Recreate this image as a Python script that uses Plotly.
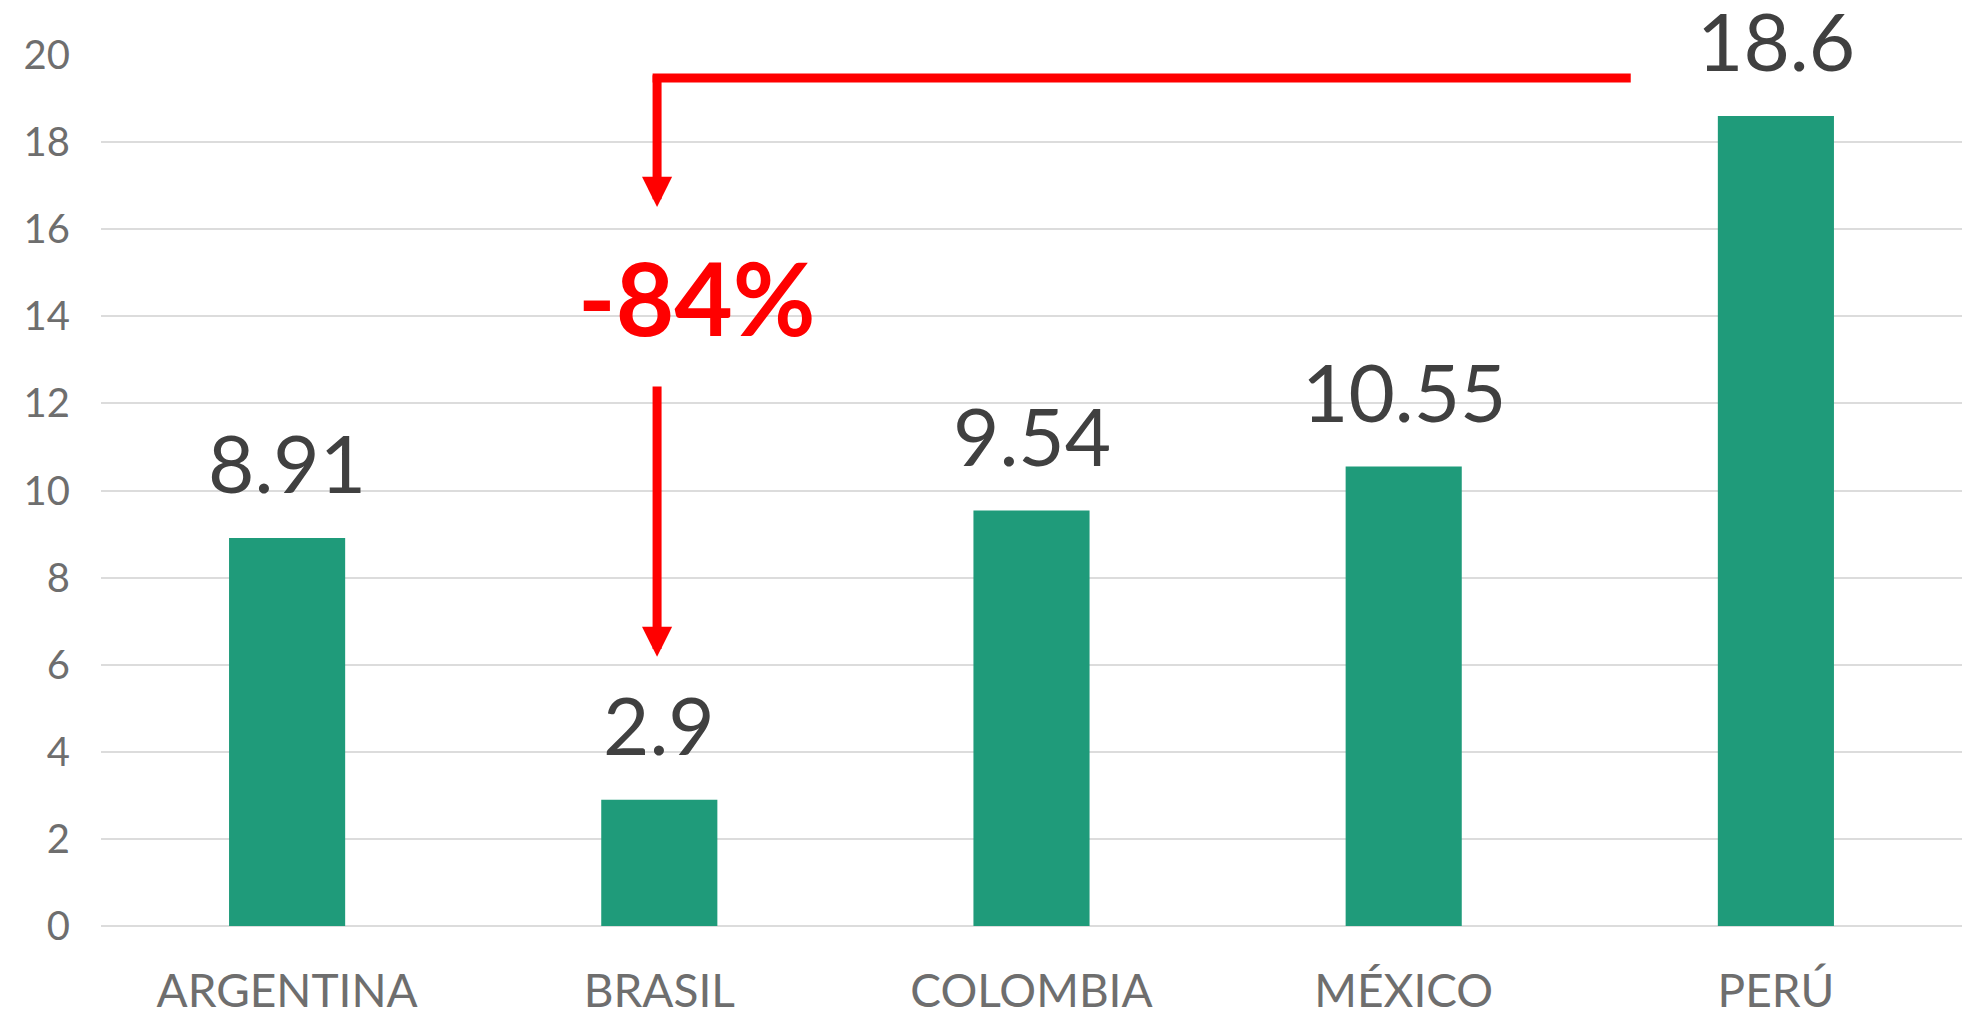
import plotly.graph_objects as go

categories = ["ARGENTINA", "BRASIL", "COLOMBIA", "MÉXICO", "PERÚ"]
values = [8.91, 2.9, 9.54, 10.55, 18.6]
value_labels = ["8.91", "2.9", "9.54", "10.55", "18.6"]
y_ticks = [0, 2, 4, 6, 8, 10, 12, 14, 16, 18, 20]
change_label = "-84%"

BAR_COLOR = "#1F9B7A"
RED = "#FF0000"
FONT = "Lato"

fig = go.Figure()
fig.add_trace(go.Bar(x=categories, y=values, marker=dict(color=BAR_COLOR, line=dict(width=0)),
                     hoverinfo="skip", showlegend=False))

# value labels above bars
for c, v, t in zip(categories, values, value_labels):
    fig.add_annotation(x=c, y=v, text=t, showarrow=False, yanchor="bottom", yshift=26,
                       font=dict(family=FONT, size=80, color="#404040"))

# red connector: horizontal line from PERÚ down to BRASIL
bx = 0.994  # near BRASIL position
fig.add_shape(type="line", xref="x", yref="y", x0=3.61, x1=bx - 0.012, y0=19.47, y1=19.47,
              line=dict(color=RED, width=9))
fig.add_annotation(x=bx, y=16.51, ax=bx, ay=19.47 + 0.1, xref="x", yref="y", axref="x", ayref="y",
                   text="", showarrow=True, arrowhead=2, arrowsize=0.67, arrowwidth=9, arrowcolor=RED)
fig.add_annotation(x=bx, y=6.18, ax=bx, ay=12.42, xref="x", yref="y", axref="x", ayref="y",
                   text="", showarrow=True, arrowhead=2, arrowsize=0.67, arrowwidth=9, arrowcolor=RED)
fig.add_annotation(x=1.101, y=14.44, text="<b>" + change_label + "</b>", showarrow=False,
                   font=dict(family=FONT, size=101, color=RED), yanchor="middle")

fig.update_layout(
    width=1972, height=1018,
    margin=dict(l=93, r=18, t=47, b=100),
    paper_bgcolor="white", plot_bgcolor="white",
    bargap=0.688,
    showlegend=False,
    xaxis=dict(showgrid=False, showline=False, ticks="", ticklabelstandoff=34, automargin=False,
               tickfont=dict(family=FONT, size=46, color="#6e6e6e")),
    yaxis=dict(range=[0, 20], tickvals=y_ticks, showgrid=True, gridcolor="#dcdcdc", gridwidth=2,
               zeroline=True, zerolinecolor="#dcdcdc", zerolinewidth=2, showline=False, ticks="",
               automargin=False,
               ticklabelstandoff=30, tickfont=dict(family=FONT, size=40, color="#6e6e6e")),
)

fig.write_html("out.html")
